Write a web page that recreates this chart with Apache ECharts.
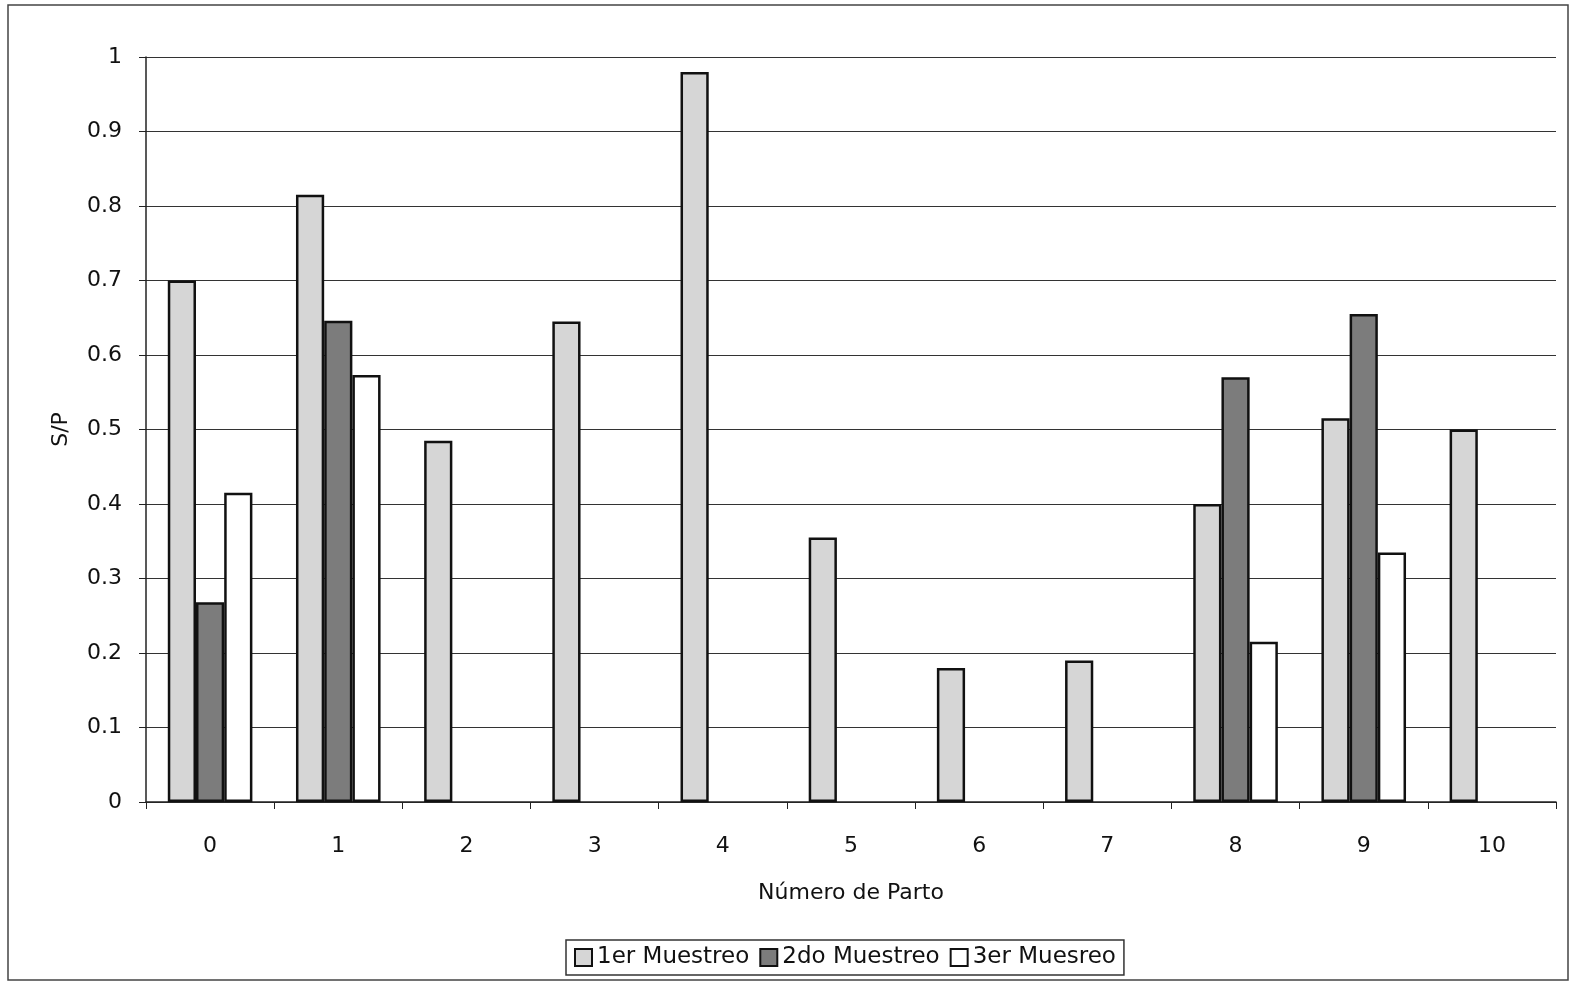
<!DOCTYPE html>
<html>
<head>
<meta charset="utf-8">
<script src="https://cdn.jsdelivr.net/npm/echarts@6/dist/echarts.min.js"></script>
<style>
  html, body { margin: 0; padding: 0; background: #fff; }
  #chart { width: 1580px; height: 991px; }
</style>
</head>
<body>
<div id="chart"></div>
<script>
// Número de parto (categories)
const partos = ['0', '1', '2', '3', '4', '5', '6', '7', '8', '9', '10'];
// S/P values per sampling round (null = no sample)
const muestreo1 = [0.70, 0.815, 0.485, 0.645, 0.98, 0.355, 0.18, 0.19, 0.40, 0.515, 0.50];
const muestreo2 = [0.268, 0.646, null, null, null, null, null, null, 0.57, 0.655, null];
const muestreo3 = [0.415, 0.573, null, null, null, null, null, null, 0.215, 0.335, null];
const seriesNames = ['1er Muestreo', '2do Muestreo', '3er Muesreo'];
const yTicks = { min: 0, max: 1, interval: 0.1 };

const font = 'DejaVu Sans';
const chart = echarts.init(document.getElementById('chart'));

function barSeries(name, data, color) {
  return {
    name: name,
    type: 'bar',
    data: data,
    barGap: '0%',
    barCategoryGap: '34%',
    itemStyle: { color: color, borderColor: '#111', borderWidth: 2.5 },
    emphasis: { disabled: true }
  };
}

chart.setOption({
  animation: false,
  textStyle: { fontFamily: font },
  graphic: [{
    type: 'rect',
    shape: { x: 8, y: 5, width: 1560, height: 975 },
    style: { fill: 'none', stroke: '#444', lineWidth: 1.5 }
  }],
  grid: { left: 146, right: 24, top: 57, bottom: 189, containLabel: false },
  legend: {
    bottom: 16,
    left: 566,
    icon: 'rect',
    itemWidth: 17,
    itemHeight: 17,
    itemGap: 10,
    padding: [6, 8, 6, 8],
    borderColor: '#333',
    borderWidth: 1.5,
    textStyle: { fontFamily: font, fontSize: 23, color: '#111' },
    data: seriesNames
  },
  xAxis: {
    type: 'category',
    data: partos,
    name: 'Número de Parto',
    nameLocation: 'middle',
    nameGap: 80,
    nameTextStyle: { fontFamily: font, fontSize: 22, color: '#111' },
    axisLine: { show: true, lineStyle: { color: '#222', width: 1.5 } },
    axisTick: { show: true, length: 7, lineStyle: { color: '#222' } },
    axisLabel: { fontFamily: font, fontSize: 22, color: '#111', margin: 33 },
    splitLine: { show: false }
  },
  yAxis: {
    type: 'value',
    min: yTicks.min,
    max: yTicks.max,
    interval: yTicks.interval,
    name: 'S/P',
    nameLocation: 'middle',
    nameGap: 74,
    nameRotate: 90,
    nameTextStyle: { fontFamily: font, fontSize: 22, color: '#111' },
    axisLine: { show: true, lineStyle: { color: '#222', width: 1.5 } },
    axisTick: { show: true, length: 7, lineStyle: { color: '#222' } },
    axisLabel: {
      fontFamily: font, fontSize: 22, color: '#111', margin: 24,
      formatter: v => String(Math.round(v * 10) / 10)
    },
    splitLine: { show: true, lineStyle: { color: '#333', width: 1.2 } }
  },
  series: [
    barSeries(seriesNames[0], muestreo1, '#d6d6d6'),
    barSeries(seriesNames[1], muestreo2, '#7c7c7c'),
    barSeries(seriesNames[2], muestreo3, '#ffffff')
  ]
});
</script>
</body>
</html>
